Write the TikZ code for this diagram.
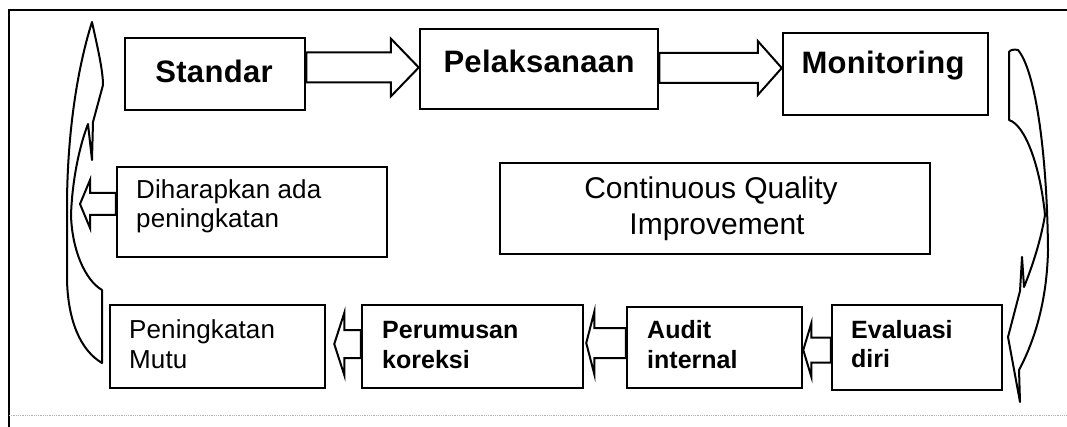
\documentclass[tikz,border=0pt]{standalone}
\usepackage{fontspec}
\setmainfont{Liberation Sans}
\usetikzlibrary{calc}
\tikzset{
  box/.style={draw, line width=2.5pt, fill=white, inner sep=0pt},
  blockarrow/.style={draw, line width=2pt, fill=white, line join=miter},
  curvearrow/.style={draw, line width=2pt, fill=white, line join=round},
  frameline/.style={line width=1.8pt},
  toplbl/.style={font=\fontsize{31}{34}\selectfont\bfseries\addfontfeature{LetterSpace=1}, inner sep=0pt, anchor=base},
  cqilbl/.style={font=\fontsize{30}{34}\selectfont, inner sep=0pt, anchor=base},
  reglbl/.style={font=\fontsize{26}{30}\selectfont\addfontfeature{LetterSpace=0.5}, inner sep=0pt, anchor=base west},
  boldlbl/.style={font=\fontsize{25}{29}\selectfont\bfseries, inner sep=0pt, anchor=base west},
}
% #1 tail point, #2 tip point, #3 half shaft, #4 half head, #5 signed head length
\newcommand\blockarr[5]{\draw[blockarrow] ($#1+(0,-#3)$) -- ($#2+(#5,-#3)$) -- ($#2+(#5,-#4)$) -- #2 -- ($#2+(#5,#4)$) -- ($#2+(#5,#3)$) -- ($#1+(0,#3)$) -- cycle;}
\begin{document}
\begin{tikzpicture}[x=1pt,y=-1pt]
\useasboundingbox (0,0) rectangle (1067,427);
% frame
\draw[frameline] (9,427) -- (9,10) -- (1067,10);
\draw[gray!60, line width=0.8pt, densely dotted] (9,415) -- (1067,415);

% boxes
\node[box, minimum width=180pt, minimum height=72pt] (std) at (215,74) {};
\node[box, minimum width=238pt, minimum height=80pt] (pel) at (539,69) {};
\node[box, minimum width=205pt, minimum height=82pt] (mon) at (885.5,74) {};
\node[box, minimum width=430pt, minimum height=91pt] (cqi) at (715,208.5) {};
\node[box, minimum width=270pt, minimum height=90pt] (dih) at (252,212) {};
\node[box, minimum width=215pt, minimum height=83pt] (pm) at (217.5,346.5) {};
\node[box, minimum width=221pt, minimum height=83pt] (per) at (472.5,346.5) {};
\node[box, minimum width=175pt, minimum height=81pt] (aud) at (714.5,347.5) {};
\node[box, minimum width=170pt, minimum height=85pt] (eva) at (917,347.5) {};

% texts
\node[toplbl] (tstd) at (214,83) {Standar};
\node[toplbl] (tpel) at (539,73) {Pelaksanaan};
\node[toplbl] (tmon) at (883,74) {Monitoring};
\node[cqilbl] (tcqa) at (711,199) {Continuous Quality};
\node[cqilbl] (tcqb) at (717,235) {Improvement};
\node[reglbl] (tdha) at (136,199) {Diharapkan ada};
\node[reglbl] (tdhb) at (136,228) {peningkatan};
\node[reglbl] (tpma) at (129,338) {Peningkatan};
\node[reglbl] (tpmb) at (129,368) {Mutu};
\node[boldlbl] (tpra) at (382,338) {Perumusan};
\node[boldlbl] (tprb) at (382,368) {koreksi};
\node[boldlbl] (tada) at (647,338) {Audit};
\node[boldlbl] (tadb) at (647,368) {internal};
\node[boldlbl] (teva) at (851,338) {Evaluasi};
\node[boldlbl] (tevb) at (851,367) {diri};

% axis coordinates for block arrows
\coordinate (ax1) at (0,67.5);
\coordinate (ax2) at (0,68);
\coordinate (tipL) at (80,204);
\coordinate (t4) at ($(pm.east |- 0,344)+(8,0)$);
\coordinate (t5) at ($(per.east |- 0,343)+(2,0)$);
\coordinate (ax6) at (0,350);

\blockarr{(std.east |- ax1)}{(pel.west |- ax1)}{15}{29}{-28}
\blockarr{(pel.east |- ax2)}{(mon.west |- ax2)}{15}{27}{-24}
\blockarr{(dih.west |- tipL)}{(tipL)}{11}{24}{10}
\blockarr{(per.west |- t4)}{(t4)}{14}{31}{10}
\blockarr{(aud.west |- t5)}{(t5)}{15}{31}{8}
\blockarr{(eva.west |- ax6)}{(aud.east |- ax6)}{12.5}{26.5}{8}

% right curved arrow (Monitoring -> Evaluasi diri)
\draw[curvearrow] (1009,52) -- (1009,120)
  .. controls (1025,125) and (1040,165) .. (1045,215)
  .. controls (1040,245) and (1030,272) .. (1024,287)
  -- (1022,257) -- (1020,291) -- (1008,337) -- (1020,402) -- (1019,370)
  .. controls (1035,340) and (1047,300) .. (1048,250)
  .. controls (1047,150) and (1035,70) .. (1018,50)
  .. controls (1014,49) and (1010,50) .. cycle;

% left curved arrow (Peningkatan Mutu -> Standar)
\draw[curvearrow] (92,22) .. controls (97,45) and (103,70) .. (103,85)
  -- (93,122) -- (92,160) -- (88,124)
  .. controls (78,150) and (72,185) .. (71,215)
  .. controls (72,250) and (85,280) .. (102,290)
  -- (102,363)
  .. controls (80,350) and (68,320) .. (67,280)
  -- (67,200)
  .. controls (68,120) and (80,60) .. cycle;
\end{tikzpicture}
\end{document}
